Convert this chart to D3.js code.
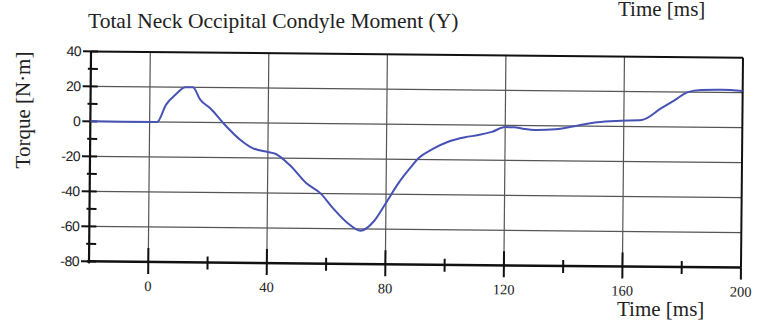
<!DOCTYPE html>
<html>
<head>
<meta charset="utf-8">
<script src="https://cdn.jsdelivr.net/npm/d3@7"></script>
<style>
  body { margin: 0; background: #fff; }
  svg { display: block; }
  .serif { font-family: "Liberation Serif", "Times New Roman", serif; fill: #222; }
  .ylab { font-family: "Liberation Sans", Arial, sans-serif; font-size: 14px; fill: #222; }
</style>
</head>
<body>
<div id="chart"></div>
<script>
const width = 762;
const height = 320;

// values
const timeMs = [-20, 2.5, 5.5, 8.8, 12, 14.5, 17, 20.5, 25, 30.5, 35, 40, 42.5, 47.5, 53, 58, 62, 67, 71.5, 76, 80, 84, 88, 91, 95.5, 101, 106.5, 111, 115.5, 120, 123, 126, 130, 137, 145, 151, 159, 166, 172.5, 177, 181.5, 186, 193, 200];
const torque = [0, 0, 10, 16, 20, 20, 13, 8, -0.5, -9.5, -14.5, -16.5, -17.5, -24, -34, -40, -48, -56.5, -61, -55.5, -45, -34, -25, -19, -14, -9.5, -7, -5.7, -3.8, -1, -1, -1.8, -2.5, -2, 0.5, 2.3, 3.3, 3.8, 10.5, 15.2, 20, 21.3, 21.5, 21];

const xMajor = [0, 40, 80, 120, 160, 200];
const xMinor = [20, 60, 100, 140, 180];
const xGrid = [0, 40, 80, 120, 160];
const yMajor = [40, 20, 0, -20, -40, -60, -80];
const yMinor = [30, 10, -10, -30, -50, -70];
const yGrid = [20, 0, -20, -40, -60];

const data = timeMs.map((t, i) => ({ t: t, v: torque[i] }));

const pLeft = 90, pRight = 742, pTop = 54.5, pBottom = 264.5;

const x = d3.scaleLinear().domain([-20, 200]).range([pLeft, pRight]);
const y = d3.scaleLinear().domain([-80, 40]).range([pBottom, pTop]);

const svg = d3.select("#chart").append("svg")
    .attr("width", width)
    .attr("height", height);

// title + labels
svg.append("text").attr("class", "serif")
    .attr("x", 88).attr("y", 27.5)
    .style("font-size", "21.5px")
    .text("Total Neck Occipital Condyle Moment (Y)");

svg.append("text").attr("class", "serif")
    .attr("x", 618).attr("y", 16)
    .style("font-size", "21px")
    .text("Time [ms]");

svg.append("text").attr("class", "serif")
    .attr("x", 617).attr("y", 316)
    .style("font-size", "21px")
    .text("Time [ms]");

svg.append("text").attr("class", "serif")
    .attr("transform", "translate(30,110) rotate(-90)")
    .attr("text-anchor", "middle")
    .style("font-size", "21px")
    .text("Torque [N·m]");

// the scan is tilted a bit, so rotate the plot
const g = svg.append("g")
    .attr("transform", `rotate(0.55, ${(pLeft + pRight) / 2}, ${(pTop + pBottom) / 2})`);

// grid
g.selectAll(".vgrid").data(xGrid).enter().append("line")
    .attr("x1", d => x(d)).attr("x2", d => x(d))
    .attr("y1", pTop).attr("y2", pBottom)
    .attr("stroke", "#555").attr("stroke-width", 1.2);

g.selectAll(".hgrid").data(yGrid).enter().append("line")
    .attr("x1", pLeft).attr("x2", pRight)
    .attr("y1", d => y(d)).attr("y2", d => y(d))
    .attr("stroke", "#555").attr("stroke-width", 1.2);

// frame
g.append("line").attr("x1", pLeft).attr("x2", pRight).attr("y1", pTop).attr("y2", pTop)
    .attr("stroke", "#111").attr("stroke-width", 2);
g.append("line").attr("x1", pRight).attr("x2", pRight).attr("y1", pTop).attr("y2", pBottom)
    .attr("stroke", "#111").attr("stroke-width", 2);

// x axis
const xAxis = g.append("g").attr("transform", `translate(0,${pBottom})`);
xAxis.append("line").attr("x1", pLeft - 2).attr("x2", pRight)
    .attr("stroke", "#111").attr("stroke-width", 2.5);
xAxis.selectAll(".xmaj").data(xMajor).enter().append("line")
    .attr("x1", d => x(d)).attr("x2", d => x(d))
    .attr("y1", d => d === 200 ? 0 : -14).attr("y2", 12)
    .attr("stroke", "#111").attr("stroke-width", 2);
xAxis.selectAll(".xmin").data(xMinor).enter().append("line")
    .attr("x1", d => x(d)).attr("x2", d => x(d))
    .attr("y1", -6).attr("y2", 7)
    .attr("stroke", "#111").attr("stroke-width", 2);
xAxis.selectAll(".xlab").data(xMajor).enter().append("text")
    .attr("class", "serif")
    .attr("x", d => x(d)).attr("y", 29)
    .attr("text-anchor", "middle")
    .style("font-size", "14.5px")
    .text(d => d);

// y axis
const yAxis = g.append("g").attr("transform", `translate(${pLeft},0)`);
yAxis.append("line").attr("y1", pTop).attr("y2", pBottom + 2)
    .attr("stroke", "#111").attr("stroke-width", 2.2);
yAxis.selectAll(".ymaj").data(yMajor).enter().append("line")
    .attr("x1", -8).attr("x2", 7)
    .attr("y1", d => y(d)).attr("y2", d => y(d))
    .attr("stroke", "#111").attr("stroke-width", 2);
yAxis.selectAll(".ymin").data(yMinor).enter().append("line")
    .attr("x1", -3).attr("x2", 7)
    .attr("y1", d => y(d)).attr("y2", d => y(d))
    .attr("stroke", "#111").attr("stroke-width", 2);
yAxis.selectAll(".ylabel").data(yMajor).enter().append("text")
    .attr("class", "ylab")
    .attr("x", -10).attr("y", d => y(d))
    .attr("dy", "0.35em")
    .attr("text-anchor", "end")
    .style("letter-spacing", "-0.5px")
    .text(d => d);

// curve
const line = d3.line()
    .x(d => x(d.t))
    .y(d => y(d.v))
    .curve(d3.curveMonotoneX);

g.append("path")
    .datum(data)
    .attr("d", line)
    .attr("fill", "none")
    .attr("stroke", "#4652b4")
    .attr("stroke-width", 2);
</script>
</body>
</html>
